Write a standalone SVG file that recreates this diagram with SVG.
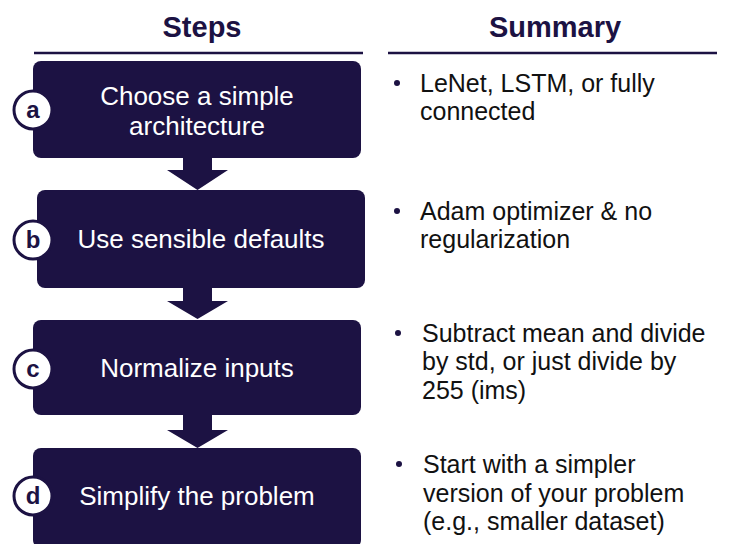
<svg xmlns="http://www.w3.org/2000/svg" width="750" height="544" viewBox="0 0 750 544">
<style>
.hdr{font-family:"Liberation Sans",Arial,sans-serif;font-weight:bold;font-size:29px;fill:#1c1243;text-anchor:middle}
.box{fill:#1c1243}
.bt{font-family:"Liberation Sans",Arial,sans-serif;font-size:26px;fill:#ffffff;text-anchor:middle}
.badge{fill:#ffffff;stroke:#1c1243;stroke-width:3}
.bl{font-family:"Liberation Sans",Arial,sans-serif;font-weight:bold;font-size:24px;fill:#1c1243;text-anchor:middle}
.sum{font-family:"Liberation Sans",Arial,sans-serif;font-size:25px;fill:#111111}
.dot{fill:#1c1243}
.rule{stroke:#1c1243;stroke-width:2.5}
.arrow{fill:#1c1243}
</style>
<rect width="750" height="544" fill="#ffffff"/>
<g id="headers">
<text class="hdr" x="202" y="37">Steps</text>
<line class="rule" x1="34" y1="53" x2="363" y2="53"/>
<text class="hdr" x="555" y="37">Summary</text>
<line class="rule" x1="388" y1="53" x2="717" y2="53"/>
</g>
<g id="connectors">
<polygon class="arrow" points="183,157 212,157 212,170 228,170 197.5,190 167,170 183,170"/>
<polygon class="arrow" points="183,288 212,288 212,301 228,301 197.5,319 167,301 183,301"/>
<polygon class="arrow" points="183,415 212,415 212,430 228,430 197.5,448 167,430 183,430"/>
</g>
<g id="step-a">
<rect class="box" x="33" y="61" width="328" height="97" rx="8"/>
<text class="bt" x="197" y="105">Choose a simple</text>
<text class="bt" x="197" y="135">architecture</text>
<circle class="badge" cx="33" cy="110" r="19"/>
<text class="bl" x="33" y="118">a</text>
</g>
<g id="step-b">
<rect class="box" x="37" y="190" width="328" height="98" rx="8"/>
<text class="bt" x="201" y="248">Use sensible defaults</text>
<circle class="badge" cx="33" cy="240" r="19"/>
<text class="bl" x="33" y="248">b</text>
</g>
<g id="step-c">
<rect class="box" x="33" y="320" width="328" height="95" rx="8"/>
<text class="bt" x="197" y="377">Normalize inputs</text>
<circle class="badge" cx="33" cy="369" r="19"/>
<text class="bl" x="33" y="377">c</text>
</g>
<g id="step-d">
<rect class="box" x="33" y="448" width="328" height="100" rx="8"/>
<text class="bt" x="197" y="505">Simplify the problem</text>
<circle class="badge" cx="33" cy="496" r="19"/>
<text class="bl" x="33" y="504">d</text>
</g>
<g id="summary-a">
<circle class="dot" cx="397" cy="83" r="3"/>
<text class="sum" x="420" y="92">LeNet, LSTM, or fully</text>
<text class="sum" x="420" y="120">connected</text>
</g>
<g id="summary-b">
<circle class="dot" cx="397" cy="211" r="3"/>
<text class="sum" x="420" y="220">Adam optimizer &amp; no</text>
<text class="sum" x="420" y="248">regularization</text>
</g>
<g id="summary-c">
<circle class="dot" cx="398" cy="333" r="3"/>
<text class="sum" x="422" y="342">Subtract mean and divide</text>
<text class="sum" x="422" y="370">by std, or just divide by</text>
<text class="sum" x="422" y="399">255 (ims)</text>
</g>
<g id="summary-d">
<circle class="dot" cx="399" cy="464" r="3"/>
<text class="sum" x="423" y="473">Start with a simpler</text>
<text class="sum" x="423" y="502">version of your problem</text>
<text class="sum" x="423" y="530">(e.g., smaller dataset)</text>
</g>
</svg>
